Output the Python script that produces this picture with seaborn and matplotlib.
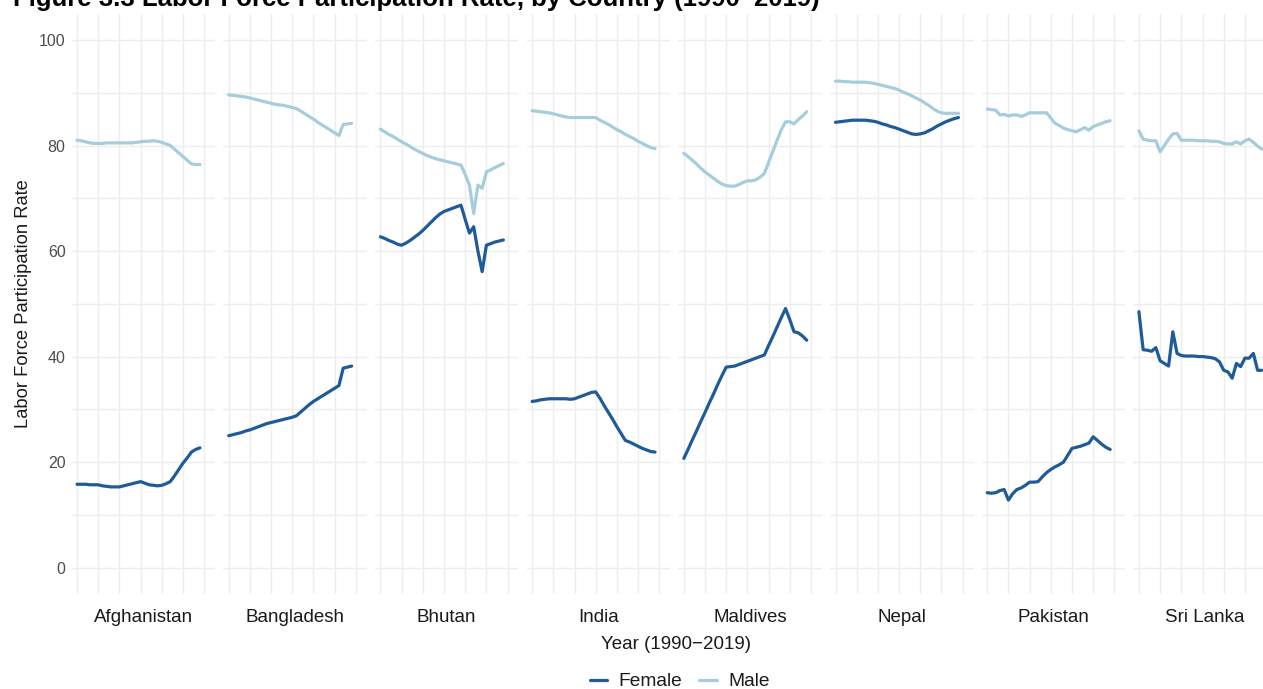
import matplotlib
matplotlib.use("Agg")
import matplotlib.pyplot as plt
import pandas as pd
import seaborn as sns

# ---- data -------------------------------------------------------------
years = list(range(1990, 2020))
countries = ["Afghanistan", "Bangladesh", "Bhutan", "India",
             "Maldives", "Nepal", "Pakistan", "Sri Lanka"]
sexes = ["Female", "Male"]

afghanistan_female = [15.8, 15.8, 15.8, 15.7, 15.7, 15.7, 15.5, 15.4, 15.3, 15.3,
                      15.3, 15.5, 15.7, 15.9, 16.1, 16.3, 16.0, 15.7, 15.6, 15.5,
                      15.6, 15.9, 16.3, 17.4, 18.6, 19.8, 20.8, 21.9, 22.4, 22.7]
afghanistan_male = [81.0, 80.9, 80.7, 80.5, 80.4, 80.4, 80.4, 80.5, 80.5, 80.5,
                    80.5, 80.5, 80.5, 80.5, 80.6, 80.7, 80.8, 80.8, 80.9, 80.8,
                    80.6, 80.3, 80.0, 79.3, 78.6, 77.9, 77.2, 76.5, 76.4, 76.4]
bangladesh_female = [25.0, 25.2, 25.4, 25.6, 25.9, 26.1, 26.4, 26.7, 27.0, 27.3,
                     27.5, 27.7, 27.9, 28.1, 28.3, 28.5, 28.8, 29.5, 30.2, 30.9,
                     31.5, 32.0, 32.5, 33.0, 33.5, 34.0, 34.5, 37.8, 38.0, 38.2]
bangladesh_male = [89.6, 89.5, 89.4, 89.3, 89.2, 89.0, 88.8, 88.6, 88.4, 88.2,
                   88.0, 87.8, 87.7, 87.6, 87.4, 87.2, 87.0, 86.5, 86.0, 85.5,
                   85.0, 84.4, 83.9, 83.4, 82.9, 82.4, 81.9, 84.0, 84.1, 84.2]
bhutan_female = [62.7, 62.4, 62.0, 61.7, 61.3, 61.1, 61.5, 62.0, 62.6, 63.2,
                 63.9, 64.7, 65.5, 66.3, 67.0, 67.5, 67.8, 68.1, 68.4, 68.7,
                 66.0, 63.4, 64.6, 60.0, 56.1, 61.1, 61.4, 61.7, 61.9, 62.1]
bhutan_male = [83.1, 82.6, 82.1, 81.7, 81.2, 80.7, 80.3, 79.8, 79.3, 78.9,
               78.5, 78.1, 77.8, 77.5, 77.3, 77.1, 76.9, 76.7, 76.5, 76.3,
               74.5, 72.5, 67.1, 72.5, 71.9, 75.0, 75.4, 75.8, 76.2, 76.6]
india_female = [31.5, 31.6, 31.8, 31.9, 32.0, 32.0, 32.0, 32.0, 32.0, 31.9,
                32.0, 32.3, 32.6, 32.9, 33.2, 33.3, 32.1, 30.7, 29.4, 28.1,
                26.7, 25.4, 24.1, 23.8, 23.4, 23.0, 22.6, 22.3, 22.0, 21.9]
india_male = [86.6, 86.5, 86.4, 86.3, 86.2, 86.0, 85.8, 85.6, 85.4, 85.3,
              85.3, 85.3, 85.3, 85.3, 85.3, 85.3, 84.8, 84.4, 84.0, 83.5,
              83.0, 82.6, 82.1, 81.7, 81.3, 80.8, 80.4, 80.0, 79.6, 79.4]
maldives_female = [20.7, 22.4, 24.2, 25.9, 27.7, 29.4, 31.2, 32.9, 34.7, 36.4,
                   38.0, 38.1, 38.2, 38.5, 38.8, 39.1, 39.4, 39.7, 40.0, 40.3,
                   42.1, 43.8, 45.6, 47.4, 49.1, 47.0, 44.7, 44.5, 43.9, 43.1]
maldives_male = [78.5, 77.9, 77.2, 76.5, 75.7, 75.0, 74.4, 73.8, 73.2, 72.7,
                 72.4, 72.3, 72.3, 72.6, 73.0, 73.3, 73.3, 73.5, 74.0, 74.7,
                 76.8, 78.9, 81.0, 83.0, 84.5, 84.5, 84.1, 84.9, 85.6, 86.4]
nepal_female = [84.4, 84.5, 84.6, 84.7, 84.8, 84.8, 84.8, 84.8, 84.7, 84.6,
                84.4, 84.1, 83.9, 83.6, 83.4, 83.1, 82.8, 82.5, 82.2, 82.1,
                82.2, 82.4, 82.8, 83.2, 83.7, 84.1, 84.5, 84.8, 85.1, 85.3]
nepal_male = [92.2, 92.2, 92.1, 92.1, 92.0, 92.0, 92.0, 92.0, 91.9, 91.8,
              91.6, 91.4, 91.2, 91.0, 90.8, 90.5, 90.1, 89.8, 89.4, 89.0,
              88.6, 88.1, 87.6, 87.0, 86.5, 86.2, 86.1, 86.1, 86.1, 86.1]
pakistan_female = [14.2, 14.1, 14.2, 14.6, 14.8, 12.8, 14.0, 14.8, 15.1, 15.6,
                   16.2, 16.2, 16.3, 17.2, 18.0, 18.6, 19.1, 19.5, 20.0, 21.3,
                   22.6, 22.8, 23.0, 23.3, 23.6, 24.8, 24.1, 23.4, 22.8, 22.4]
pakistan_male = [86.9, 86.8, 86.7, 85.8, 85.9, 85.6, 85.8, 85.8, 85.5, 85.8,
                 86.2, 86.2, 86.2, 86.2, 86.2, 85.2, 84.2, 83.8, 83.3, 83.0,
                 82.8, 82.6, 83.0, 83.4, 82.9, 83.6, 83.9, 84.2, 84.5, 84.7]
srilanka_female = [48.5, 41.3, 41.2, 41.0, 41.7, 39.2, 38.7, 38.2, 44.7, 40.6,
                   40.2, 40.1, 40.1, 40.1, 40.0, 40.0, 39.9, 39.8, 39.6, 39.0,
                   37.4, 37.1, 35.9, 38.7, 38.1, 39.7, 39.7, 40.6, 37.4, 37.4]
srilanka_male = [82.8, 81.2, 81.0, 80.9, 80.9, 78.8, 80.0, 81.2, 82.2, 82.3,
                 81.0, 81.0, 81.0, 81.0, 80.9, 80.9, 80.9, 80.8, 80.8, 80.7,
                 80.4, 80.3, 80.3, 80.7, 80.3, 80.9, 81.2, 80.6, 79.9, 79.3]

series = {
    "Afghanistan": (afghanistan_female, afghanistan_male),
    "Bangladesh": (bangladesh_female, bangladesh_male),
    "Bhutan": (bhutan_female, bhutan_male),
    "India": (india_female, india_male),
    "Maldives": (maldives_female, maldives_male),
    "Nepal": (nepal_female, nepal_male),
    "Pakistan": (pakistan_female, pakistan_male),
    "Sri Lanka": (srilanka_female, srilanka_male),
}

rows = []
for c in countries:
    for sex, vals in zip(sexes, series[c]):
        for y, v in zip(years, vals):
            rows.append({"country": c, "sex": sex, "year": y, "rate": v})
df = pd.DataFrame(rows)

palette = {"Female": "#1F5B98", "Male": "#A5CDDC"}

# ---- figure -----------------------------------------------------------
sns.set_style("white")
plt.rcParams["font.family"] = ["Liberation Sans", "DejaVu Sans"]

W, H = 1263, 689
fig = plt.figure(figsize=(W / 100, H / 100), dpi=100)

pitch, left0, pw = 151.7, 71.5, 143.5
top_px, bot_px = 13.6, 594.0
grid_col = "#EDEDED"

handles = labels = None
for i, c in enumerate(countries):
    ax = fig.add_axes([(left0 + i * pitch) / W, 1 - bot_px / H,
                       pw / W, (bot_px - top_px) / H])
    sns.lineplot(data=df[df["country"] == c], x="year", y="rate",
                 hue="sex", hue_order=sexes, palette=palette,
                 linewidth=2.3, ax=ax, legend=(i == 0))
    if i == 0:
        handles, labels = ax.get_legend_handles_labels()
        ax.get_legend().remove()
    ax.set_xlim(1988.7, 2022.55)
    ax.set_ylim(-5, 105)
    ax.set_xticks(range(1990, 2021, 5))
    ax.set_yticks(range(0, 101, 10))
    ax.grid(True, color=grid_col, linewidth=1.0)
    ax.set_axisbelow(True)
    ax.tick_params(length=0, pad=4.3, labelsize=11.5, labelcolor="#4D4D4D")
    ax.set_xticklabels([])
    if i == 0:
        ax.set_yticklabels([str(v) if v % 20 == 0 else "" for v in range(0, 101, 10)])
    else:
        ax.set_yticklabels([])
    ax.set_xlabel("")
    ax.set_ylabel("")
    for s in ax.spines.values():
        s.set_visible(False)
    fig.text((left0 + i * pitch + pw / 2) / W, 1 - 622.5 / H, c,
             ha="center", va="baseline", fontsize=13.5, color="#1A1A1A")

fig.text(24 / W, 1 - 303.8 / H, "Labor Force Participation Rate",
         rotation=90, ha="center", va="center", fontsize=13.2, color="#1A1A1A")
fig.text(676 / W, 1 - 649 / H, "Year (1990\u22122019)",
         ha="center", va="baseline", fontsize=13.5, color="#1A1A1A")

fig.legend(handles, labels, loc="center", ncol=2, frameon=False,
           bbox_to_anchor=(679.5 / W, 1 - 681.7 / H), fontsize=13.8,
           handlelength=0.9, handletextpad=0.6, columnspacing=0.9,
           labelcolor="#1A1A1A")

fig.text(13 / W, 1 - 6 / H,
         "Figure 3.3 Labor Force Participation Rate, by Country (1990\u20132019)",
         ha="left", va="baseline", fontsize=18.5, fontweight="bold", color="black")

fig.savefig("out.png", dpi=100)
